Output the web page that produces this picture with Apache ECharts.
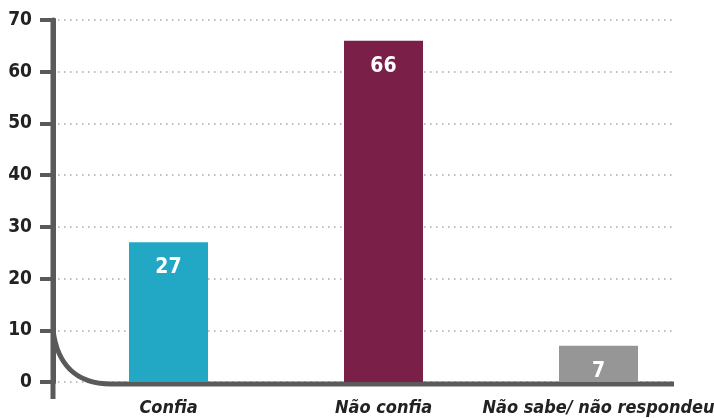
<!DOCTYPE html>
<html>
<head>
<meta charset="utf-8">
<script src="https://cdn.jsdelivr.net/npm/echarts@6/dist/echarts.min.js"></script>
<style>
  html, body {margin: 0; padding: 0; background: #fff;}
  #chart {width: 714px; height: 418px;}
</style>
</head>
<body>
<div id="chart"></div>
<script>
// dados
const categorias = ['Confia', 'Não confia', 'Não sabe/ não respondeu']
const valores = [27, 66, 7]
const cores = ['#22a8c4', '#7a1f47', '#969696']
const yTicks = [0, 10, 20, 30, 40, 50, 60, 70]

const fonte = "'DejaVu Sans Condensed', 'Noto Sans', sans-serif"
const corEixo = '#5a5a5a'

let chart = echarts.init(document.getElementById('chart'))

let option = {
  animation: false,
  grid: [
    {left: 61, right: 8, top: 20, bottom: 36, outerBoundsMode: 'none'},
    // grade só para as linhas pontilhadas
    {left: 58, right: 38, top: 20, bottom: 36, outerBoundsMode: 'none'}
  ],
  xAxis: [{
    type: 'category',
    gridIndex: 0,
    data: categorias,
    axisLine: {show: false},
    axisTick: {show: false},
    axisLabel: {
      interval: 0,
      hideOverlap: false,
      margin: 17,
      fontFamily: fonte,
      fontSize: 18,
      fontWeight: 'bold',
      fontStyle: 'italic',
      color: '#222'
    }
  }, {
    type: 'value',
    gridIndex: 1,
    min: 0,
    max: 1,
    show: false
  }],
  yAxis: [{
    type: 'value',
    gridIndex: 0,
    min: yTicks[0],
    max: yTicks[yTicks.length - 1],
    interval: 10,
    offset: 8,
    axisLine: {show: true, lineStyle: {color: corEixo, width: 5}},
    axisTick: {show: true, length: 13, lineStyle: {color: corEixo, width: 4}},
    axisLabel: {
      margin: 21,
      fontFamily: fonte,
      fontSize: 19,
      fontWeight: 'bold',
      color: '#222'
    },
    splitLine: {show: false}
  }, {
    type: 'value',
    gridIndex: 1,
    min: yTicks[0],
    max: yTicks[yTicks.length - 1],
    interval: 10,
    axisLine: {show: false},
    axisTick: {show: false},
    axisLabel: {show: false},
    splitLine: {show: true, lineStyle: {color: '#a8a8a8', width: 1.5, type: [1.5, 4.5]}}
  }],
  series: [{
    type: 'bar',
    xAxisIndex: 0,
    yAxisIndex: 0,
    barWidth: 79,
    data: valores.map((v, i) => ({value: v, itemStyle: {color: cores[i]}})),
    label: {
      show: true,
      position: 'insideTop',
      distance: 15,
      fontFamily: fonte,
      fontSize: 21,
      fontWeight: 'bold',
      color: '#fff'
    }
  }]
}

chart.setOption(option)

// eixo com a curva no canto inferior esquerdo
let x0 = chart.convertToPixel({xAxisIndex: 0}, 0) - 107.5 - 8
let yZero = chart.convertToPixel({yAxisIndex: 0}, 0)
let y10 = chart.convertToPixel({yAxisIndex: 0}, 10)
let yTop = chart.convertToPixel({yAxisIndex: 0}, 70)
let xFim = chart.convertToPixel({xAxisIndex: 1}, 1) - 2
let yBase = yZero + 2
let xCurva = x0 + 58

chart.setOption({
  graphic: [{
    type: 'line',
    shape: {x1: x0, y1: yTop - 2, x2: x0, y2: yBase + 15},
    style: {stroke: corEixo, lineWidth: 5}
  }, {
    type: 'bezierCurve',
    shape: {x1: x0, y1: y10, cpx1: x0 + 4, cpy1: yBase - 22, cpx2: x0 + 21, cpy2: yBase, x2: xCurva, y2: yBase},
    style: {stroke: corEixo, lineWidth: 5, fill: null}
  }, {
    type: 'line',
    shape: {x1: xCurva, y1: yBase, x2: xFim, y2: yBase},
    style: {stroke: corEixo, lineWidth: 5}
  }]
})
</script>
</body>
</html>
